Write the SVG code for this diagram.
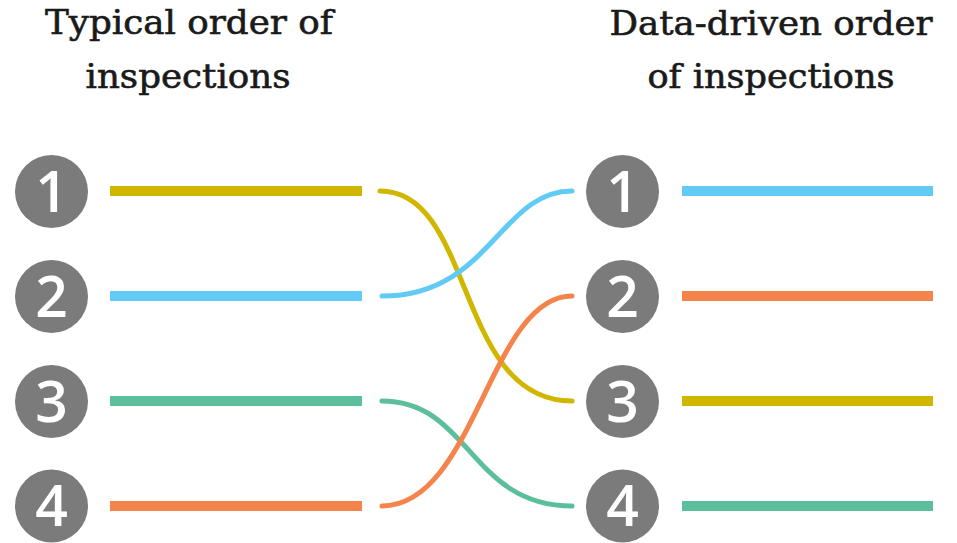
<svg xmlns="http://www.w3.org/2000/svg" width="957" height="543" viewBox="0 0 957 543">
  <style>
    .title { font-family: "DejaVu Serif", "Liberation Serif", serif; font-size: 33px; fill: #1a1a1a; stroke: #1a1a1a; stroke-width: 0.6; text-anchor: middle; }
    .badge circle { fill: #7b7b7b; }
    .badge text { font-family: "Open Sans", "Liberation Sans", sans-serif; font-weight: 600; font-size: 57px; fill: #ffffff; text-anchor: middle; }
    .bar { stroke-width: 10; fill: none; }
    .link { stroke-width: 5; fill: none; stroke-linecap: round; }
    .yellow { stroke: #d1b600; }
    .blue { stroke: #62cbf5; }
    .green { stroke: #5cbf9b; }
    .orange { stroke: #f5844c; }
  </style>
  <rect width="957" height="543" fill="#ffffff"/>

  <g id="title-left">
    <text class="title" x="189" y="34" textLength="288" lengthAdjust="spacingAndGlyphs">Typical order of</text>
    <text class="title" x="188" y="88" textLength="205" lengthAdjust="spacingAndGlyphs">inspections</text>
  </g>
  <g id="title-right">
    <text class="title" x="771" y="35" textLength="323" lengthAdjust="spacingAndGlyphs">Data-driven order</text>
    <text class="title" x="771" y="88" textLength="247" lengthAdjust="spacingAndGlyphs">of inspections</text>
  </g>

  <!-- left column: typical order -->
  <g id="left-1" class="badge"><circle cx="51.5" cy="191.5" r="36.5"/><text x="51.5" y="212">1</text></g>
  <g id="left-2" class="badge"><circle cx="51.5" cy="296.5" r="36.5"/><text x="51.5" y="317">2</text></g>
  <g id="left-3" class="badge"><circle cx="51.5" cy="401.5" r="36.5"/><text x="51.5" y="422">3</text></g>
  <g id="left-4" class="badge"><circle cx="51.5" cy="506" r="36.5"/><text x="51.5" y="526">4</text></g>

  <!-- right column: data-driven order -->
  <g id="right-1" class="badge"><circle cx="622.5" cy="191.5" r="36.5"/><text x="622.5" y="212">1</text></g>
  <g id="right-2" class="badge"><circle cx="622.5" cy="296.5" r="36.5"/><text x="622.5" y="317">2</text></g>
  <g id="right-3" class="badge"><circle cx="622.5" cy="401.5" r="36.5"/><text x="622.5" y="422">3</text></g>
  <g id="right-4" class="badge"><circle cx="622.5" cy="506" r="36.5"/><text x="622.5" y="526">4</text></g>

  <g id="connectors">
    <!-- bars beside each badge -->
    <line class="bar yellow" x1="110" y1="191" x2="362" y2="191"/>
    <line class="bar blue" x1="110" y1="296" x2="362" y2="296"/>
    <line class="bar green" x1="110" y1="401" x2="362" y2="401"/>
    <line class="bar orange" x1="110" y1="506" x2="362" y2="506"/>

    <line class="bar blue" x1="682" y1="191" x2="933" y2="191"/>
    <line class="bar orange" x1="682" y1="296" x2="933" y2="296"/>
    <line class="bar yellow" x1="682" y1="401" x2="933" y2="401"/>
    <line class="bar green" x1="682" y1="506" x2="933" y2="506"/>

    <!-- re-ordering curves -->
    <path class="link yellow" d="M380,191 C475,191 455,401 572,401"/>
    <path class="link blue" d="M382,296 C490,296 500,191 572,191"/>
    <path class="link green" d="M382,401 C470,401 470,506 572,506"/>
    <path class="link orange" d="M382,506 C475,506 490,296 572,296"/>
  </g>
</svg>
